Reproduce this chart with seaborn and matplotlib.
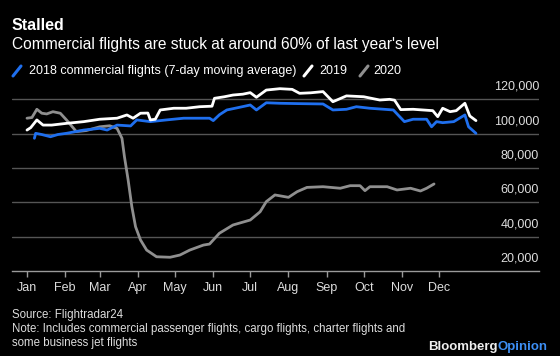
import numpy as np
import pandas as pd
import matplotlib
matplotlib.use("Agg")
import matplotlib.pyplot as plt
from matplotlib.lines import Line2D
import seaborn as sns

# day of year (0 = Jan 1) and flights, thousands
days_2019 = [0, 3, 8, 13, 20, 32, 46, 59, 73, 81, 86, 92, 98, 100, 104, 108, 119, 129, 140,
             150, 152, 160, 167, 175, 181, 186, 194, 205, 215, 221, 230, 240, 248, 259, 273,
             286, 294, 298, 303, 313, 329, 333, 337, 343, 348, 355, 359, 364]
flights_2019 = [102.1, 103.5, 108.0, 105.0, 105.0, 106.0, 107.0, 108.4, 109.0, 110.9, 109.0,
                111.9, 112.0, 108.0, 108.4, 113.8, 114.8, 114.8, 115.7, 116.0, 120.6, 121.5,
                122.5, 123.0, 123.9, 121.2, 125.4, 126.2, 125.8, 123.5, 123.8, 124.5, 118.6,
                122.0, 121.5, 119.6, 120.0, 119.5, 114.0, 114.2, 113.4, 109.9, 114.8, 112.8,
                113.4, 117.7, 110.3, 107.6]

days_2018 = [6, 7, 12, 19, 25, 32, 46, 59, 65, 73, 84, 89, 100, 113, 127, 148, 151, 156, 162,
             170, 181, 186, 194, 205, 220, 240, 248, 259, 267, 278, 297, 302, 306, 313, 324,
             328, 332, 337, 346, 355, 358, 364]
flights_2018 = [97.3, 100.2, 99.5, 98.2, 99.5, 100.2, 102.1, 103.1, 102.1, 105.0, 104.5, 108.0,
                107.0, 108.0, 109.0, 109.0, 107.6, 111.0, 113.8, 115.0, 116.7, 113.8, 118.0,
                117.7, 117.5, 117.3, 113.8, 114.2, 115.7, 114.8, 113.8, 110.0, 107.0, 108.4,
                108.4, 104.0, 107.0, 106.4, 107.0, 110.9, 104.0, 100.2]

days_2020 = [0, 4, 8, 12, 16, 21, 27, 32, 40, 48, 59, 67, 73, 77, 79, 82, 85, 88, 92, 97, 105,
             116, 124, 132, 143, 148, 156, 167, 181, 189, 194, 201, 205, 212, 219, 227, 240,
             254, 262, 270, 274, 278, 292, 300, 311, 319, 324, 330]
flights_2020 = [109.0, 109.4, 114.2, 111.9, 111.5, 112.8, 111.9, 108.0, 101.2, 101.8, 104.0,
                104.6, 103.1, 97.3, 86.6, 73.0, 57.5, 45.8, 38.1, 32.2, 28.3, 28.0, 29.3, 32.2,
                35.1, 35.7, 42.0, 46.8, 49.7, 54.5, 60.4, 64.3, 63.8, 62.9, 66.2, 68.7, 69.1,
                68.2, 69.7, 69.7, 66.8, 69.1, 69.1, 67.2, 68.2, 66.6, 68.2, 70.7]

month_starts = [0, 31, 59, 90, 120, 151, 181, 212, 243, 273, 304, 334]
month_labels = ["Jan", "Feb", "Mar", "Apr", "May", "Jun", "Jul", "Aug", "Sep", "Oct", "Nov", "Dec"]
y_ticks = [20000, 40000, 60000, 80000, 100000, 120000]

BG = "black"
BLUE = "#1f6fee"
GRAY = "#8f8f8f"

sns.set_theme(style="dark", rc={"figure.facecolor": BG, "axes.facecolor": BG,
                                "savefig.facecolor": BG})
plt.rcParams["font.family"] = ["Liberation Sans", "DejaVu Sans"]

df = pd.concat([
    pd.DataFrame({"day": days_2018, "flights": np.array(flights_2018) * 1000, "year": "2018"}),
    pd.DataFrame({"day": days_2019, "flights": np.array(flights_2019) * 1000, "year": "2019"}),
    pd.DataFrame({"day": days_2020, "flights": np.array(flights_2020) * 1000, "year": "2020"}),
])

fig = plt.figure(figsize=(5.6, 3.56), dpi=100)
ax = fig.add_axes([12 / 560, 1 - 271 / 356, 527 / 560, 0.5208])

for yt in y_ticks[1:]:
    ax.axhline(yt, color="#555555", lw=1.0, zorder=0)

sns.lineplot(data=df, x="day", y="flights", hue="year",
             palette={"2018": BLUE, "2019": "white", "2020": GRAY},
             hue_order=["2020", "2018", "2019"], sort=False, estimator=None,
             lw=2.0, legend=False, ax=ax)

ax.set_xlim(-12.16, 415.1)
ax.set_ylim(20000, 128000)
ax.set_xlabel("")
ax.set_ylabel("")
ax.set_yticks([])
ax.set_xticks(month_starts)
ax.set_xticklabels(month_labels, color="#dddddd", fontsize=9)
ax.tick_params(axis="x", length=4, width=1, color="#9a9a9a", pad=4, bottom=True)
for side in ["top", "right", "left"]:
    ax.spines[side].set_visible(False)
ax.spines["bottom"].set_color("#9a9a9a")
ax.spines["bottom"].set_linewidth(1.0)
ax.grid(False)

for yt in y_ticks:
    ax.annotate(f"{yt:,}", xy=(1, yt), xycoords=("axes fraction", "data"),
                xytext=(0, 9), textcoords="offset points", ha="right", va="center",
                color="#dddddd", fontsize=9, annotation_clip=False)

def fx(px):
    return px / 560

def fy(py):
    return 1 - py / 356

fig.text(fx(12), fy(26), "Stalled", color="white", fontsize=11.5, fontweight="bold", va="center")
fig.text(fx(12), fy(45), "Commercial flights are stuck at around 60% of last year's level",
         color="white", fontsize=11.2, va="center")

for x0, col in [(13, BLUE), (304, "white"), (360, GRAY)]:
    fig.add_artist(Line2D([fx(x0), fx(x0 + 8)], [fy(76), fy(66)], color=col, lw=2.2,
                          transform=fig.transFigure))
fig.text(fx(29), fy(71), "2018 commercial flights (7-day moving average)", color="white",
         fontsize=9, va="center")
fig.text(fx(319), fy(71), "2019", color="white", fontsize=9, va="center")
fig.text(fx(373), fy(71), "2020", color="white", fontsize=9, va="center")

fig.text(fx(12), fy(315), "Source: Flightradar24", color="#dddddd", fontsize=8.3, va="center")
fig.text(fx(12), fy(329), "Note: Includes commercial passenger flights, cargo flights, "
         "charter flights and", color="#dddddd", fontsize=8.3, va="center")
fig.text(fx(12), fy(343), "some business jet flights", color="#dddddd", fontsize=8.3,
         va="center")
fig.text(fx(497.5), fy(347), "Bloomberg", color="#eeeeee", fontsize=9.5, fontweight="bold",
         ha="right", va="center")
fig.text(fx(498), fy(347), "Opinion", color="#3d8ff5", fontsize=9.5, fontweight="bold",
         ha="left", va="center")

fig.savefig("out.png", dpi=100)
